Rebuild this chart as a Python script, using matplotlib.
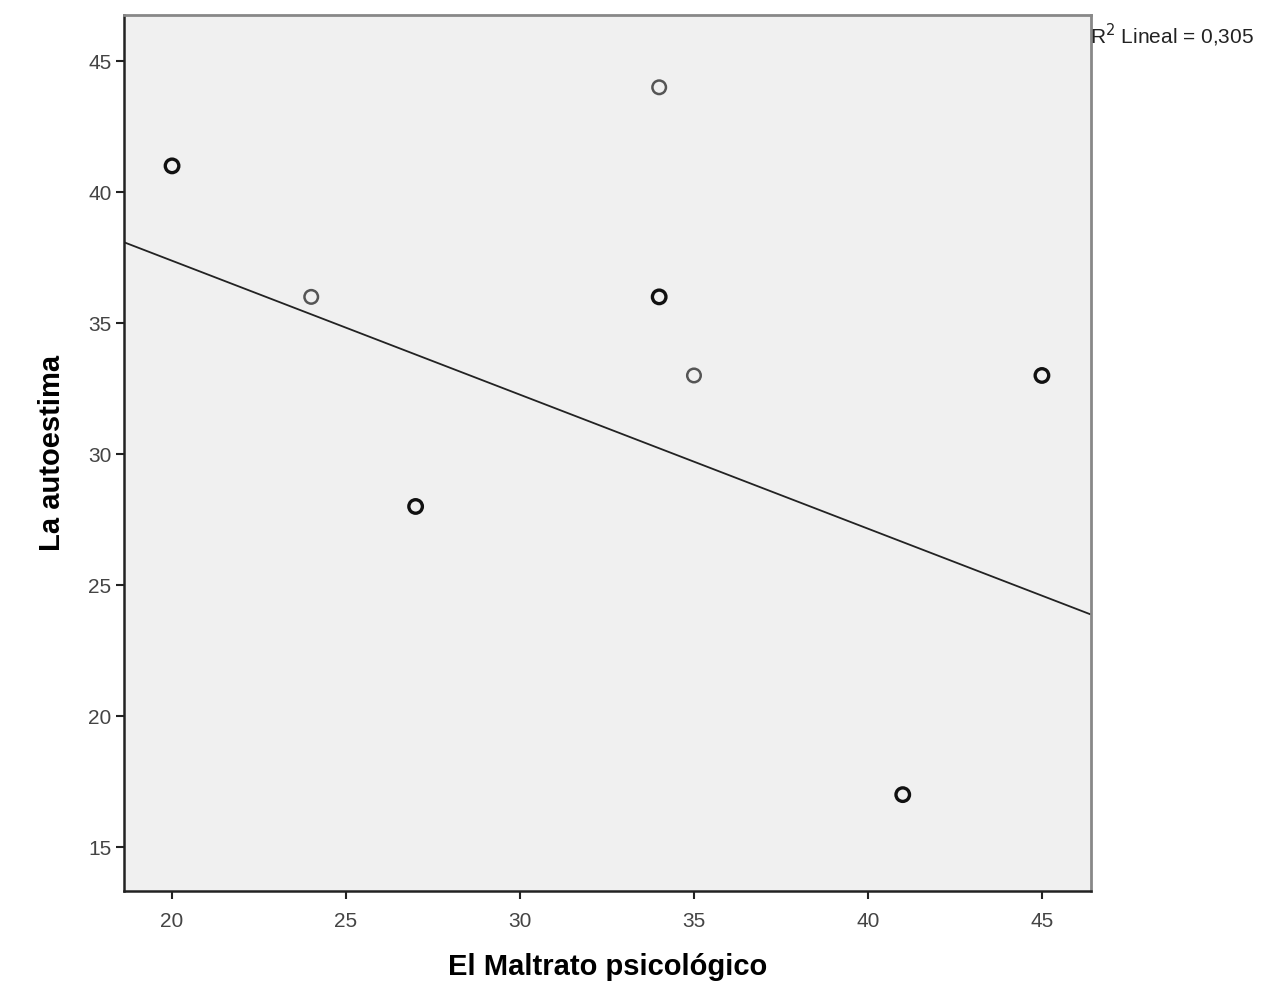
import matplotlib
matplotlib.use('Agg')
import matplotlib.pyplot as plt

plt.rcParams['font.family'] = ['Liberation Sans', 'DejaVu Sans']

# puntos del grafico de dispersion (los mas oscuros son casos repetidos)
maltrato = [20, 24, 27, 34, 34, 35, 41, 45]
autoestima = [41, 36, 28, 44, 36, 33, 17, 33]
repetido = [True, False, True, False, True, False, True, True]

# recta de ajuste
recta_x = [18.65, 46.38]
recta_y = [38.07, 23.89]
r2_texto = 'R$^2$ Lineal = 0,305'

x_ticks = [20, 25, 30, 35, 40, 45]
y_ticks = [15, 20, 25, 30, 35, 40, 45]

fig = plt.figure(figsize=(12.76, 9.86), dpi=100)
ax = fig.add_axes([0.0972, 0.0963, 0.7578, 0.8885])
ax.set_facecolor('#f0f0f0')

xs_claro = [x for x, r in zip(maltrato, repetido) if not r]
ys_claro = [y for y, r in zip(autoestima, repetido) if not r]
xs_osc = [x for x, r in zip(maltrato, repetido) if r]
ys_osc = [y for y, r in zip(autoestima, repetido) if r]

ax.plot(recta_x, recta_y, color='#222222', lw=1.3, zorder=2)
ax.scatter(xs_claro, ys_claro, s=95, facecolors='none', edgecolors='#555555', linewidths=1.8, zorder=3)
ax.scatter(xs_osc, ys_osc, s=95, facecolors='none', edgecolors='#111111', linewidths=2.4, zorder=3)

ax.set_xlim(18.62, 46.41)
ax.set_ylim(13.32, 46.76)
ax.set_xticks(x_ticks)
ax.set_yticks(y_ticks)
ax.tick_params(axis='both', labelsize=15, labelcolor='#444444', length=6, width=1.5, color='#222222')
ax.tick_params(axis='x', pad=9)
ax.tick_params(axis='y', pad=3)

for lado in ['left', 'bottom']:
    ax.spines[lado].set_color('#222222')
    ax.spines[lado].set_linewidth(1.8)
for lado in ['top', 'right']:
    ax.spines[lado].set_color('#888888')
    ax.spines[lado].set_linewidth(2)

ax.set_xlabel('El Maltrato psicológico', fontsize=21, fontweight='bold', labelpad=16)
ax.set_ylabel('La autoestima', fontsize=21, fontweight='bold', labelpad=16)

fig.text(0.8545, 0.964, r2_texto, fontsize=15, color='#222222', ha='left', va='center')

plt.savefig('out.png', dpi=100)
